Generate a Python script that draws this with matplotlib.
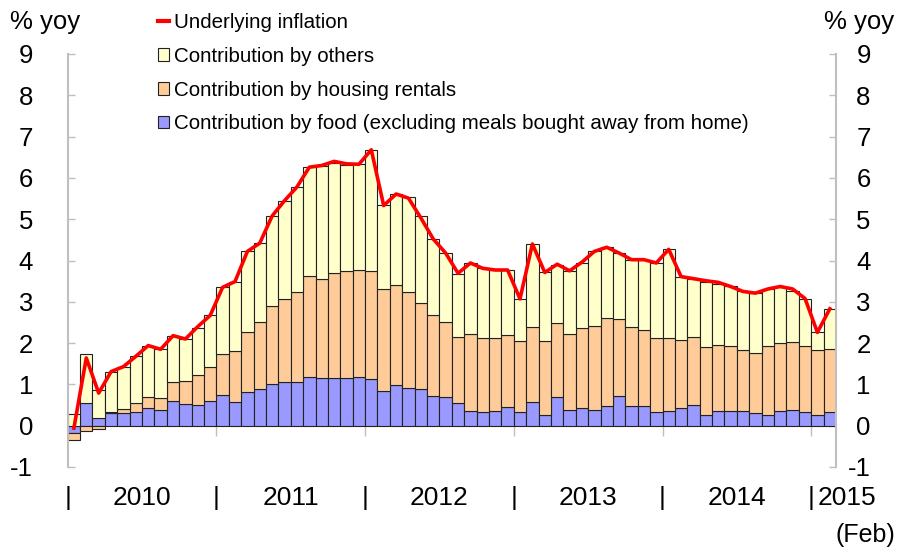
import numpy as np
import matplotlib
matplotlib.use("Agg")
import matplotlib.pyplot as plt
from matplotlib.lines import Line2D
from matplotlib.patches import Patch

plt.rcParams['font.family'] = ['Liberation Sans', 'DejaVu Sans']
plt.rcParams['axes.unicode_minus'] = False

# monthly, Jan 2010 .. Feb 2015 (% yoy, percentage point contributions)
food = [-0.17, 0.54, 0.19, 0.31, 0.31, 0.34, 0.42, 0.38, 0.59, 0.53, 0.51, 0.59,
        0.75, 0.57, 0.81, 0.89, 1.01, 1.05, 1.07, 1.18, 1.15, 1.16, 1.16, 1.18,
        1.14, 0.84, 0.98, 0.91, 0.89, 0.73, 0.69, 0.55, 0.35, 0.33, 0.36, 0.45,
        0.32, 0.57, 0.27, 0.69, 0.38, 0.44, 0.37, 0.47, 0.71, 0.48, 0.47, 0.34,
        0.35, 0.44, 0.51, 0.25, 0.35, 0.35, 0.35, 0.31, 0.27, 0.36, 0.39, 0.32,
        0.27, 0.32]
housing = [-0.18, -0.14, -0.08, 0.02, 0.10, 0.21, 0.27, 0.28, 0.46, 0.56, 0.72, 0.83,
           0.99, 1.25, 1.46, 1.62, 1.90, 2.02, 2.17, 2.44, 2.40, 2.54, 2.59, 2.60,
           2.60, 2.47, 2.43, 2.32, 2.08, 1.94, 1.81, 1.60, 1.88, 1.80, 1.77, 1.74,
           1.73, 1.81, 1.78, 1.79, 1.85, 1.92, 2.05, 2.13, 1.87, 1.91, 1.85, 1.79,
           1.77, 1.64, 1.64, 1.65, 1.61, 1.57, 1.49, 1.46, 1.67, 1.64, 1.63, 1.62,
           1.57, 1.53]
others = [0.29, 1.20, 0.67, 0.98, 1.01, 1.14, 1.23, 1.19, 1.11, 1.02, 1.14, 1.25,
          1.61, 1.65, 1.95, 1.91, 2.17, 2.38, 2.54, 2.64, 2.75, 2.66, 2.57, 2.55,
          2.94, 2.04, 2.20, 2.30, 2.10, 1.85, 1.68, 1.53, 1.71, 1.68, 1.64, 1.58,
          1.02, 2.02, 1.66, 1.40, 1.52, 1.59, 1.80, 1.72, 1.60, 1.63, 1.70, 1.81,
          2.15, 1.53, 1.41, 1.59, 1.48, 1.47, 1.41, 1.44, 1.37, 1.37, 1.25, 1.12,
          0.43, 0.97]
underlying = [-0.06, 1.64, 0.79, 1.31, 1.43, 1.68, 1.94, 1.85, 2.18, 2.10, 2.40, 2.67,
              3.35, 3.49, 4.22, 4.42, 5.08, 5.45, 5.78, 6.26, 6.30, 6.40, 6.34, 6.33,
              6.68, 5.33, 5.61, 5.51, 5.03, 4.52, 4.18, 3.69, 3.94, 3.81, 3.77, 3.77,
              3.07, 4.40, 3.71, 3.91, 3.75, 3.96, 4.22, 4.32, 4.18, 4.02, 4.02, 3.94,
              4.27, 3.61, 3.56, 3.51, 3.47, 3.37, 3.25, 3.21, 3.31, 3.37, 3.31, 3.08,
              2.26, 2.83]
years = ['2010', '2011', '2012', '2013', '2014']

series = [('food', food, '#9999FF'),
          ('housing', housing, '#FFCC99'),
          ('others', others, '#FFFFCC')]

n = len(food)
x = np.arange(n)

fig = plt.figure(figsize=(9.01, 5.52), dpi=100)
ax = fig.add_axes([67.7 / 901, 85 / 552, 768.3 / 901, 413 / 552])

# stack positives upward and negatives downward
pos_base = np.zeros(n)
neg_base = np.zeros(n)
for name, vals, col in series:
    v = np.array(vals)
    base = np.where(v >= 0, pos_base, neg_base)
    ax.bar(x, v, bottom=base, width=1.0, color=col, edgecolor='#222222',
           linewidth=0.8, zorder=2)
    pos_base += np.where(v >= 0, v, 0)
    neg_base += np.where(v < 0, v, 0)

ax.plot(x, underlying, color='#FF0000', lw=2.6, zorder=4, solid_joinstyle='round')

ax.set_xlim(-0.5, n - 0.5)
ax.set_ylim(-1, 9)
ax.set_yticks(range(-1, 10))

for s in ['left', 'right']:
    ax.spines[s].set_color('#BFBFBF')
    ax.spines[s].set_linewidth(1.5)
ax.spines['top'].set_visible(False)
ax.spines['bottom'].set_position(('data', 0))
ax.spines['bottom'].set_visible(False)

ax.tick_params(axis='y', which='both', direction='in', length=5, color='#BFBFBF',
               width=1, labelsize=18.5, left=True, right=True,
               labelleft=True, labelright=True, pad=25)
for lab in ax.get_yticklabels():
    lab.set_horizontalalignment('right')

# year boundaries as small grey ticks below the zero line
bounds = [11.5, 23.5, 35.5, 47.5, 59.5]
ax.set_xticks(bounds)
ax.set_xticklabels([])
ax.tick_params(axis='x', direction='out', length=7, color='#BFBFBF', width=1)

# year labels with separators
trans = ax.get_xaxis_transform()
ty = -0.075
for b in [-0.5] + bounds:
    ax.text(b, ty, '|', transform=trans, ha='center', va='center', fontsize=19)
for i, yr in enumerate(years):
    ax.text(5.5 + 12 * i, ty, yr, transform=trans, ha='center', va='center', fontsize=19)
ax.text(60.0, ty, '2015', transform=trans, ha='left', va='center', fontsize=19)
ax.text(63.9, ty - 0.09, '(Feb)', transform=trans, ha='center', va='center',
        fontsize=18, clip_on=False)

fig.text(10 / 901, 1 - 22 / 552, '% yoy', fontsize=18.5, ha='left', va='center')
fig.text(894 / 901, 1 - 22 / 552, '% yoy', fontsize=18.5, ha='right', va='center')

handles = [Line2D([0], [0], color='#FF0000', lw=3),
           Patch(facecolor='#FFFFCC', edgecolor='#222222', lw=0.8),
           Patch(facecolor='#FFCC99', edgecolor='#222222', lw=0.8),
           Patch(facecolor='#9999FF', edgecolor='#222222', lw=0.8)]
labels = ['Underlying inflation', 'Contribution by others',
          'Contribution by housing rentals',
          'Contribution by food (excluding meals bought away from home)']
fig.legend(handles, labels, loc='upper left', bbox_to_anchor=(158 / 901, 1 - 13 / 552),
           frameon=False, fontsize=14.8, handlelength=0.55, handleheight=0.55,
           handletextpad=0.25, labelspacing=0.72, borderpad=0, borderaxespad=0)

fig.savefig('out.png', dpi=100)
